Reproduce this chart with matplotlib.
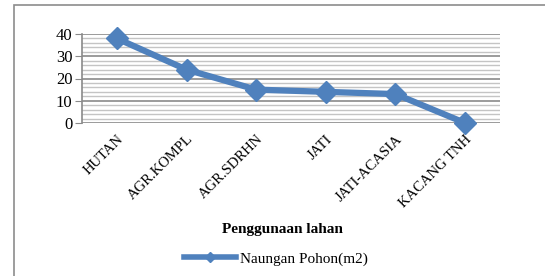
import matplotlib
matplotlib.use("Agg")
import matplotlib.pyplot as plt
from matplotlib.patches import Rectangle
from matplotlib.lines import Line2D

categories = ["HUTAN", "AGR.KOMPL", "AGR.SDRHN", "JATI", "JATI-ACASIA", "KACANG TNH"]
values = [38, 24, 15, 14, 13, 0]
yticks = [0, 10, 20, 30, 40]
series_name = "Naungan Pohon(m2)"
xlabel = "Penggunaan lahan"

plt.rcParams['font.family'] = ['Liberation Serif', 'DejaVu Serif']
W, H = 545, 276
fig = plt.figure(figsize=(W/100, H/100), dpi=100)

# outer border
fig.add_artist(Rectangle((14/W, -0.05), 1.0, (H-5)/H + 0.05, transform=fig.transFigure,
                         fill=False, edgecolor='#8c8c8c', linewidth=1.2))

left, right, top, bottom = 82, 500, 34, 123
ax = fig.add_axes([left/W, 1-bottom/H, (right-left)/W, (bottom-top)/H])
color = '#4F81BD'
x = list(range(len(categories)))
ax.set_xlim(-0.5, len(categories)-0.5)
ax.set_ylim(0, 40)
for v in range(0, 41, 2):
    if v % 10 == 0:
        ax.axhline(v, color='#8a8a8a', lw=1.2, zorder=1)
    else:
        ax.axhline(v, color='#c4c4c4', lw=1.0, zorder=1)
ax.plot(x, values, color=color, lw=4.5, marker='D', markersize=11, zorder=3, clip_on=False)
for s in ['top', 'right', 'bottom']:
    ax.spines[s].set_visible(False)
ax.spines['left'].set_color('#8a8a8a')
ax.spines['left'].set_linewidth(1.2)
ax.set_yticks(yticks)
ax.set_yticklabels([str(t) for t in yticks], fontsize=12)
ax.tick_params(axis='y', length=5, color='#8a8a8a', pad=2)
ax.set_xticks(x)
ax.set_xticklabels(categories, rotation=45, ha='right', rotation_mode='anchor', fontsize=10.5)
ax.tick_params(axis='x', length=0, pad=7)

fig.text(282/W, 1-230/H, xlabel, ha='center', va='center', fontsize=11, fontweight='bold')
leg_line = Line2D([], [], color=color, lw=4, marker='D', markersize=5)
fig.legend([leg_line], [series_name], loc='center', bbox_to_anchor=(276/W, 1-259/H),
           frameon=False, fontsize=11, handlelength=3.4, handletextpad=0.3)

fig.savefig("out.png", dpi=100)
